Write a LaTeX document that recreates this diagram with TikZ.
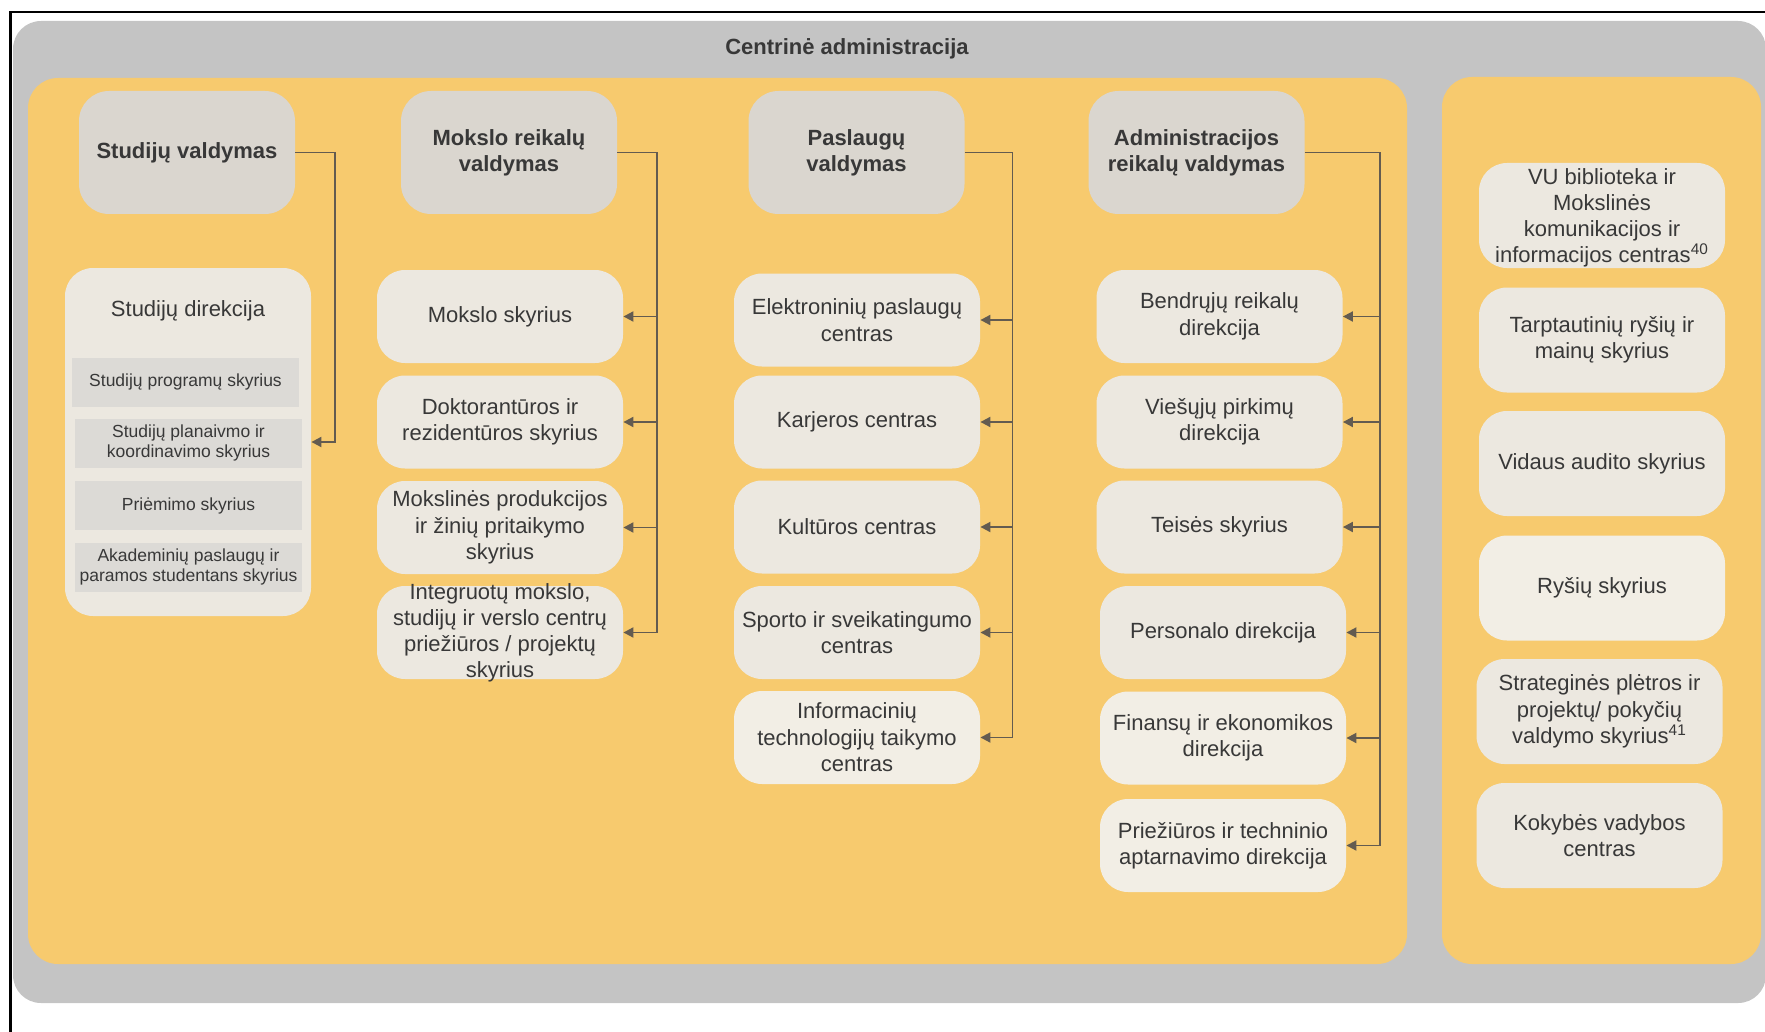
\documentclass[tikz,border=0pt]{standalone}
\usepackage{fontspec}
\setmainfont{Liberation Sans}
\usepackage{xcolor}
\usetikzlibrary{arrows.meta,positioning,calc}

\definecolor{panelgray}{HTML}{C4C4C4}
\definecolor{panelyellow}{HTML}{F7CA6E}
\definecolor{headfill}{HTML}{DAD6CF}
\definecolor{unitfill}{HTML}{ECE8E0}
\definecolor{unitlight}{HTML}{F2EEE5}
\definecolor{subfill}{HTML}{DCDAD6}
\definecolor{inkgray}{HTML}{383838}
\definecolor{linkgray}{HTML}{635B50}

\tikzset{
  head/.style={rectangle, rounded corners=15pt, fill=headfill, text=inkgray, align=center,
    minimum width=108pt, minimum height=61.5pt, inner sep=2pt,
    font=\bfseries\fontsize{11}{12.9}\selectfont},
  unit/.style={rectangle, rounded corners=14pt, fill=unitfill, text=inkgray, align=center,
    minimum width=123pt, minimum height=46.5pt, inner sep=2pt,
    font=\fontsize{11}{13.2}\selectfont},
  unittext/.style={text=inkgray, align=center, inner sep=0pt, font=\fontsize{11}{13}\selectfont},
  subunit/.style={rectangle, fill=subfill, text=inkgray, align=center,
    minimum width=113.5pt, minimum height=24.5pt, inner sep=1pt,
    font=\fontsize{8.75}{10.35}\selectfont},
  link/.style={draw=linkgray, line width=0.95pt},
  tip/.style={link, -{Triangle[length=5pt,width=5pt]}},
}

\begin{document}
\begin{tikzpicture}[x=0.5pt,y=-0.5pt]
  \useasboundingbox (0,0) rectangle (1765,1032);
  \draw[line width=1.4pt] (10.5,1032) -- (10.5,12) -- (1765,12);

  % outer frame and the two yellow panels
  \fill[panelgray, rounded corners=14pt] (13,21) rectangle (1766,1003);
  \node[font=\bfseries\fontsize{11}{13}\selectfont, text=inkgray] (title) at (847,48.5) {Centrinė administracija};
  \fill[panelyellow, rounded corners=15pt] (28,78) rectangle (1407,964);
  \fill[panelyellow, rounded corners=15pt] (1442,77) rectangle (1761,964);

  % management heads
  \node[head] (hs) at (187,152.5) {Studijų valdymas};
  \node[head] (hm) at (509,152.5) {Mokslo reikalų\\valdymas};
  \node[head] (hp) at (856.5,152.5) {Paslaugų\\valdymas};
  \node[head] (ha) at (1196.5,152.5) {Administracijos\\reikalų valdymas};

  % studies directorate with its divisions
  \node[unit, minimum height=174pt] (sd) at (188,442) {};
  \node[unittext] (sdt) at (188,311) {Studijų direkcija};
  \node[subunit] (s1) at (185.5,382) {Studijų programų skyrius};
  \node[subunit] (s2) at (188.5,443) {Studijų planaivmo ir\\koordinavimo skyrius};
  \node[subunit] (s3) at (188.5,505.5) {Priėmimo skyrius};
  \node[subunit] (s4) at (188.5,567) {Akademinių paslaugų ir\\paramos studentans skyrius};

  % research units
  \node[unit] (m1) at (500,316.5) {Mokslo skyrius};
  \node[unit] (m2) at (500,422) {Doktorantūros ir\\rezidentūros skyrius};
  \node[unit] (m3) at (500,527.5) {Mokslinės produkcijos\\ir žinių pritaikymo\\skyrius};
  \node[unit] (m4) at (500,632.5) {};
  \node[unittext] (m4t) at (m4) {Integruotų mokslo,\\studijų ir verslo centrų\\priežiūros / projektų\\skyrius};

  % service centres
  \node[unit] (p1) at (857,320) {Elektroninių paslaugų\\centras};
  \node[unit] (p2) at (857,422) {Karjeros centras};
  \node[unit] (p3) at (857,527) {Kultūros centras};
  \node[unit] (p4) at (857,632.5) {Sporto ir sveikatingumo\\centras};
  \node[unit, fill=unitlight] (p5) at (857,737.5) {Informacinių\\technologijų taikymo\\centras};

  % administration directorates
  \node[unit] (a1) at (1219.5,316.5) {Bendrųjų reikalų\\direkcija};
  \node[unit] (a2) at (1219.5,422) {Viešųjų pirkimų\\direkcija};
  \node[unit] (a3) at (1219.5,527) {Teisės skyrius};
  \node[unit] (a4) at (1223,632.5) {Personalo direkcija};
  \node[unit, fill=unitlight] (a5) at (1223,738) {Finansų ir ekonomikos\\direkcija};
  \node[unit, fill=unitlight] (a6) at (1223,845.5) {Priežiūros ir techninio\\aptarnavimo direkcija};

  % units outside the four managements
  \node[unit, minimum height=52.5pt] (r1) at (1602,215.5) {};
  \node[unittext] (r1t) at ([yshift=-1pt]r1.center) {VU biblioteka ir\\Mokslinės\\komunikacijos ir\\informacijos centras\textsuperscript{40}};
  \node[unit, minimum height=52.5pt] (r2) at (1602,340) {Tarptautinių ryšių ir\\mainų skyrius};
  \node[unit, minimum height=52.5pt] (r3) at (1602,463.5) {Vidaus audito skyrius};
  \node[unit, minimum height=52.5pt, fill=unitlight] (r4) at (1602,588) {Ryšių skyrius};
  \node[unit, minimum height=52.5pt] (r5) at (1599.5,711.5) {Strateginės plėtros ir\\projektų/ pokyčių\\valdymo skyrius\textsuperscript{41}};
  \node[unit, minimum height=52.5pt] (r6) at (1599.5,835.5) {Kokybės vadybos\\centras};

  % connectors: head -> vertical bus -> each unit
  \coordinate (sbus) at (335,0);
  \coordinate (mbus) at (657,0);
  \coordinate (pbus) at (1012.5,0);
  \coordinate (abus) at (1380,0);
  \draw[tip] (hs.east) -| (sbus |- sd.east) -- (sd.east);
  \draw[link] (hm.east) -| (mbus |- m4.east);
  \foreach \c in {m1,m2,m3,m4} \draw[tip] (mbus |- \c.east) -- (\c.east);
  \draw[link] (hp.east) -| (pbus |- p5.east);
  \foreach \c in {p1,p2,p3,p4,p5} \draw[tip] (pbus |- \c.east) -- (\c.east);
  \draw[link] (ha.east) -| (abus |- a6.east);
  \foreach \c in {a1,a2,a3,a4,a5,a6} \draw[tip] (abus |- \c.east) -- (\c.east);
\end{tikzpicture}
\end{document}
